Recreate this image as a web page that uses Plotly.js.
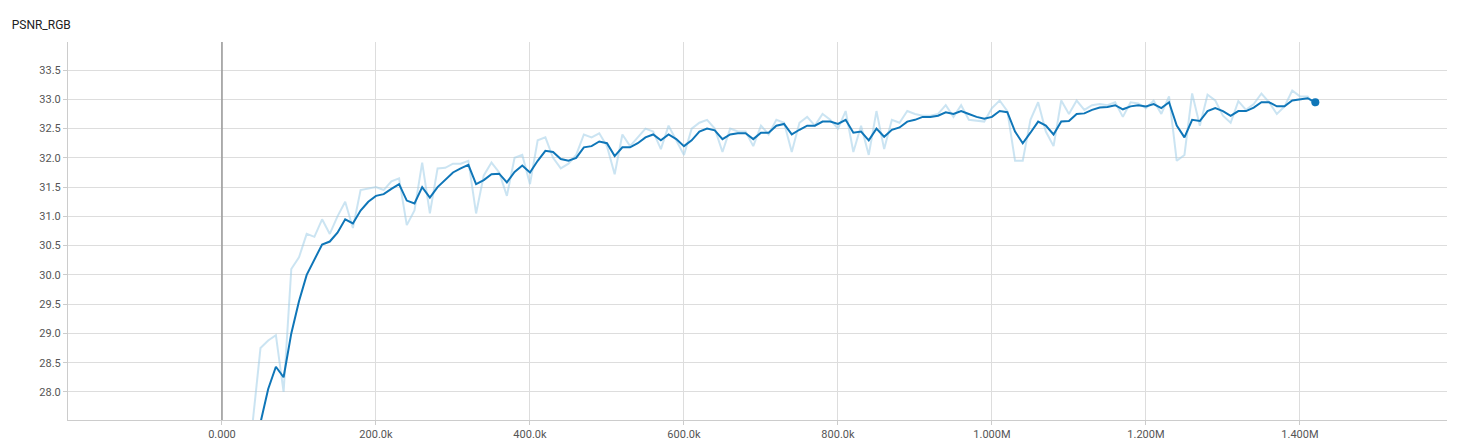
<!DOCTYPE html>
<html><head><meta charset="utf-8">
<script src="https://cdn.plot.ly/plotly-3.0.1.min.js"></script>
<style>body{margin:0;background:#fff}#c{width:1461px;height:446px}</style>
</head><body><div id="c"></div>
<script>
const steps = [];
for (let s = 40000; s <= 1420000; s += 10000) steps.push(s);
const rawValues = [27.5,28.75,28.88,28.97,28.0,30.1,30.3,30.7,30.65,30.95,30.7,31.0,31.25,30.8,31.45,31.47,31.5,31.45,31.6,31.65,30.85,31.1,31.92,31.05,31.82,31.83,31.9,31.9,31.95,31.05,31.7,31.92,31.75,31.35,32.0,32.05,31.55,32.3,32.35,32.0,31.82,31.9,32.05,32.4,32.35,32.42,32.2,31.72,32.4,32.2,32.35,32.5,32.45,32.15,32.55,32.3,32.05,32.5,32.6,32.65,32.5,32.1,32.5,32.45,32.45,32.2,32.55,32.4,32.65,32.6,32.1,32.6,32.7,32.55,32.75,32.65,32.5,32.8,32.1,32.55,32.05,32.8,32.15,32.65,32.6,32.8,32.75,32.72,32.72,32.75,32.9,32.7,32.9,32.65,32.63,32.62,32.85,32.98,32.8,31.95,31.95,32.65,32.95,32.45,32.2,32.98,32.75,32.98,32.82,32.9,32.92,32.9,32.95,32.7,32.95,32.93,32.85,32.98,32.75,33.05,31.95,32.05,33.1,32.55,33.08,32.98,32.72,32.6,32.97,32.82,32.92,33.1,32.95,32.75,32.88,33.15,33.05,33.05,32.88];
const smoothValues = [26.9,27.5,28.05,28.43,28.25,29.0,29.55,30.0,30.27,30.52,30.57,30.72,30.95,30.88,31.1,31.25,31.35,31.38,31.47,31.55,31.27,31.22,31.5,31.32,31.5,31.63,31.75,31.82,31.88,31.55,31.62,31.72,31.73,31.58,31.76,31.87,31.75,31.95,32.12,32.1,31.98,31.95,32.0,32.18,32.2,32.28,32.25,32.03,32.18,32.18,32.25,32.35,32.4,32.3,32.4,32.32,32.2,32.3,32.45,32.5,32.47,32.32,32.4,32.42,32.42,32.32,32.43,32.43,32.55,32.58,32.4,32.48,32.55,32.55,32.62,32.62,32.58,32.65,32.43,32.45,32.3,32.5,32.36,32.48,32.52,32.62,32.65,32.7,32.7,32.72,32.78,32.75,32.8,32.75,32.7,32.67,32.7,32.8,32.78,32.45,32.25,32.43,32.62,32.55,32.4,32.62,32.63,32.75,32.76,32.82,32.86,32.87,32.9,32.83,32.88,32.9,32.88,32.92,32.85,32.95,32.55,32.35,32.65,32.63,32.8,32.85,32.8,32.72,32.8,32.8,32.86,32.95,32.95,32.88,32.88,32.98,33.0,33.02,32.95];
const xTickVals = [0,200000,400000,600000,800000,1000000,1200000,1400000];
const xTickText = ['0.000','200.0k','400.0k','600.0k','800.0k','1.000M','1.200M','1.400M'];
const yTickVals = [28.0,28.5,29.0,29.5,30.0,30.5,31.0,31.5,32.0,32.5,33.0,33.5];
const lastStep = [steps[steps.length-1]], lastVal = [smoothValues[smoothValues.length-1]];
Plotly.newPlot('c', [
 {x: steps, y: rawValues, mode:'lines', line:{color:'rgba(160,205,232,0.55)', width:2}, hoverinfo:'skip'},
 {x: steps, y: smoothValues, mode:'lines', line:{color:'#0f76b8', width:2}},
 {x: lastStep, y: lastVal, mode:'markers', marker:{color:'#0f76b8', size:8}},
 {x:[0,0], y:[27.52,34], mode:'lines', line:{color:'#999', width:1.5}}
], {
 width:1461, height:446, showlegend:false,
 paper_bgcolor:'#fff', plot_bgcolor:'#fff',
 margin:{l:68, r:14, t:42, b:26},
 title:{text:'PSNR_RGB', x:0.008, xanchor:'left', y:0.944, yanchor:'middle', font:{family:'Roboto, sans-serif', size:12, color:'#212121'}},
 xaxis:{range:[-200000,1591000], tickvals:xTickVals, ticktext:xTickText, showgrid:true, gridcolor:'#ddd', zeroline:false,
   showline:true, linecolor:'#ccc', ticks:'outside', ticklen:4, tickcolor:'#ccc',
   tickfont:{family:'Roboto, sans-serif', size:11, color:'#555'}},
 yaxis:{range:[27.52,33.98], tickvals:yTickVals, tickformat:'.1f', showgrid:true, gridcolor:'#ddd', zeroline:false,
   showline:true, linecolor:'#ccc', ticks:'outside', ticklen:4, tickcolor:'#ccc',
   tickfont:{family:'Roboto, sans-serif', size:11, color:'#555'}}
}, {staticPlot:true});
</script></body></html>
